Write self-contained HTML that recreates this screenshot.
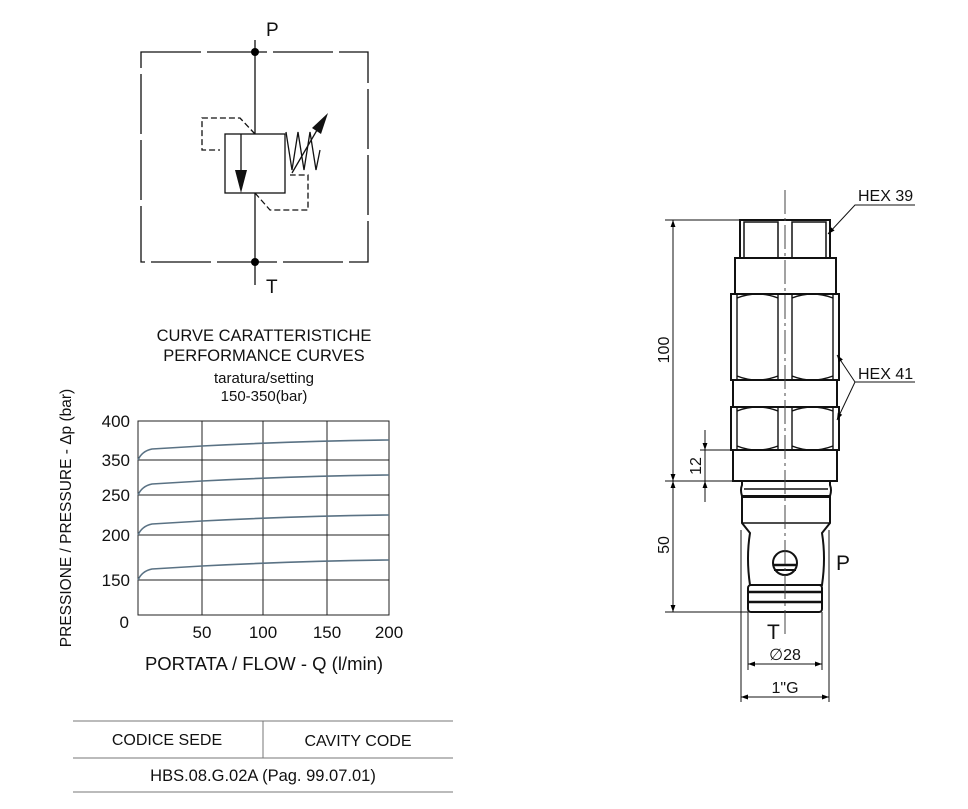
<!DOCTYPE html>
<html><head><meta charset="utf-8"><style>
html,body{margin:0;padding:0;background:#fff;}
svg{display:block;font-family:"Liberation Sans",sans-serif;}
</style></head><body>
<svg width="968" height="809" viewBox="0 0 968 809" xmlns="http://www.w3.org/2000/svg">
<defs>
<marker id="ar" viewBox="0 0 10 10" refX="10" refY="5" markerWidth="11" markerHeight="7" orient="auto-start-reverse" markerUnits="userSpaceOnUse"><path d="M0,1.5 L10,5 L0,8.5 z" fill="#000"/></marker>
</defs>
<!-- hydraulic symbol -->
<g stroke="#111" fill="none" stroke-width="1.3">
<rect x="141" y="52" width="227" height="210" stroke-dasharray="60,6"/>
<line x1="255" y1="40" x2="255" y2="134"/>
<line x1="255" y1="193" x2="255" y2="285"/>
<rect x="225" y="134" width="60" height="59" fill="#fff"/>
<line x1="241" y1="134" x2="241" y2="175"/>
<g stroke-dasharray="6,3">
<polyline points="255,134 240,118 202,118 202,150 220,150"/>
<polyline points="255,193 270,210 308,210 308,175 290,175"/>
</g>
<polyline points="286,132 292,170 298,132 304,170 310,132 316,170 320,150"/>
<line x1="292" y1="173" x2="320" y2="125"/>
</g>
<polygon points="235,170 247,170 241,193" fill="#111"/>
<polygon points="328,113 312,128 321,134" fill="#111"/>
<circle cx="255" cy="52" r="4" fill="#000"/>
<circle cx="255" cy="262" r="4" fill="#000"/>
<text x="266" y="36" font-size="19" fill="#111">P</text>
<text x="266" y="293" font-size="19" fill="#111">T</text>
<!-- chart titles -->
<g font-size="16.5" fill="#111" text-anchor="middle">
<text x="264" y="341">CURVE CARATTERISTICHE</text>
<text x="264" y="361">PERFORMANCE CURVES</text>
<text x="264" y="383" font-size="15">taratura/setting</text>
<text x="264" y="401" font-size="15">150-350(bar)</text>
</g>
<!-- chart -->
<g stroke="#222" stroke-width="1" fill="none">
<rect x="138" y="421" width="251" height="194"/>
<line x1="138" y1="460" x2="389" y2="460"/>
<line x1="138" y1="495" x2="389" y2="495"/>
<line x1="138" y1="535" x2="389" y2="535"/>
<line x1="138" y1="580" x2="389" y2="580"/>
<line x1="202" y1="421" x2="202" y2="615"/>
<line x1="263" y1="421" x2="263" y2="615"/>
<line x1="327" y1="421" x2="327" y2="615"/>
</g>
<g stroke="#5a7284" stroke-width="1.6" fill="none">
<path d="M138,460 Q142,451 152,449 L202,446 Q300,441 389,440"/>
<path d="M138,495 Q142,486 152,484 L202,481 Q300,476 389,475"/>
<path d="M138,535 Q142,526 152,524 L202,521 Q300,516 389,515"/>
<path d="M138,580 Q142,571 152,569 L202,566 Q300,561 389,560"/>
</g>
<g font-size="17" fill="#111" text-anchor="end">
<text x="130" y="427">400</text>
<text x="130" y="466">350</text>
<text x="130" y="501">250</text>
<text x="130" y="541">200</text>
<text x="130" y="586">150</text>
<text x="129" y="628">0</text>
</g>
<g font-size="17" fill="#111" text-anchor="middle">
<text x="202" y="638">50</text>
<text x="263" y="638">100</text>
<text x="327" y="638">150</text>
<text x="389" y="638">200</text>
<text x="264" y="670" font-size="18.5">PORTATA / FLOW - Q (l/min)</text>
</g>
<text x="0" y="0" font-size="15.5" fill="#111" text-anchor="middle" transform="translate(71,518) rotate(-90)">PRESSIONE / PRESSURE - Δp (bar)</text>
<!-- table -->
<g stroke="#777" stroke-width="1">
<line x1="73" y1="721" x2="453" y2="721"/>
<line x1="73" y1="758" x2="453" y2="758"/>
<line x1="73" y1="792" x2="453" y2="792"/>
<line x1="263" y1="721" x2="263" y2="758"/>
</g>
<g font-size="16" fill="#111" text-anchor="middle">
<text x="167" y="745">CODICE SEDE</text>
<text x="358" y="746">CAVITY CODE</text>
<text x="263" y="781" font-size="16.5">HBS.08.G.02A (Pag. 99.07.01)</text>
</g>
<!-- cartridge -->
<g stroke="#111" stroke-width="2" fill="none">
<polyline points="740,258 740,220 830,220 830,258"/>
<rect x="744" y="222" width="34" height="36" stroke-width="1.5"/>
<rect x="792" y="222" width="34" height="36" stroke-width="1.5"/>
<rect x="735" y="258" width="101" height="36"/>
<rect x="731" y="294" width="108" height="86"/>
<g stroke-width="1.4">
<line x1="737" y1="294" x2="737" y2="380"/><line x1="833" y1="294" x2="833" y2="380"/>
<line x1="778" y1="294" x2="778" y2="380"/><line x1="792" y1="294" x2="792" y2="380"/>
<path d="M737,298 Q757,290 778,298 M792,298 Q812,290 833,298 M737,376 Q757,384 778,376 M792,376 Q812,384 833,376"/>
</g>
<rect x="733" y="380" width="104" height="27"/>
<rect x="731" y="407" width="108" height="43"/>
<g stroke-width="1.4">
<line x1="737" y1="407" x2="737" y2="450"/><line x1="833" y1="407" x2="833" y2="450"/>
<line x1="778" y1="407" x2="778" y2="450"/><line x1="792" y1="407" x2="792" y2="450"/>
<path d="M737,411 Q757,403 778,411 M792,411 Q812,403 833,411 M737,446 Q757,454 778,446 M792,446 Q812,454 833,446"/>
</g>
<rect x="733" y="450" width="104" height="31"/>
<path d="M742,481 L742,485 Q740,490 742,496 L830,496 Q832,490 830,485 L830,481"/>
<line x1="744" y1="489" x2="828" y2="489" stroke-width="1.4"/>
<path d="M742,497 L742,523 L750,533 Q746,558 750,585 L822,585 Q826,558 822,533 L830,523 L830,497 Z"/>
<line x1="742" y1="523" x2="830" y2="523" stroke-width="1.4"/>
<rect x="748" y="585" width="74" height="27" rx="3"/>
<line x1="748" y1="592" x2="822" y2="592" stroke-width="2.5"/>
<line x1="748" y1="602" x2="822" y2="602" stroke-width="2.5"/>
<circle cx="785" cy="563" r="12"/>
<line x1="773" y1="565" x2="797" y2="565" stroke-width="2.5"/>
<line x1="774" y1="570" x2="796" y2="570" stroke-width="2"/>
</g>
<line x1="785" y1="190" x2="785" y2="635" stroke="#444" stroke-width="1" stroke-dasharray="24,4,3,4"/>
<!-- dimensions -->
<g stroke="#111" stroke-width="1" fill="none">
<line x1="665" y1="220" x2="740" y2="220"/>
<line x1="665" y1="481" x2="733" y2="481"/>
<line x1="665" y1="612" x2="748" y2="612"/>
<line x1="700" y1="450" x2="733" y2="450"/>
<line x1="673" y1="220" x2="673" y2="481" marker-start="url(#ar)" marker-end="url(#ar)"/>
<line x1="673" y1="481" x2="673" y2="612" marker-start="url(#ar)" marker-end="url(#ar)"/>
<line x1="705" y1="430" x2="705" y2="450" marker-end="url(#ar)"/>
<line x1="705" y1="502" x2="705" y2="481" marker-end="url(#ar)"/>
<line x1="705" y1="450" x2="705" y2="481"/>
<line x1="748" y1="612" x2="748" y2="670"/>
<line x1="822" y1="612" x2="822" y2="670"/>
<line x1="741" y1="530" x2="741" y2="702"/>
<line x1="829" y1="530" x2="829" y2="702"/>
<line x1="748" y1="664" x2="822" y2="664" marker-start="url(#ar)" marker-end="url(#ar)"/>
<line x1="741" y1="697" x2="829" y2="697" marker-start="url(#ar)" marker-end="url(#ar)"/>
<polyline points="915,205 855,205 828,234" marker-end="url(#ar)"/>
<polyline points="915,382 855,382 837,355" marker-end="url(#ar)"/>
<line x1="855" y1="382" x2="837" y2="420" marker-end="url(#ar)"/>
</g>
<g font-size="16" fill="#111">
<text x="858" y="201">HEX 39</text>
<text x="858" y="379">HEX 41</text>
<text x="785" y="660" text-anchor="middle">∅28</text>
<text x="785" y="693" text-anchor="middle">1"G</text>
<text x="0" y="0" text-anchor="middle" transform="translate(669,350) rotate(-90)">100</text>
<text x="0" y="0" text-anchor="middle" transform="translate(669,545) rotate(-90)">50</text>
<text x="0" y="0" text-anchor="middle" transform="translate(701,466) rotate(-90)">12</text>
<text x="836" y="570" font-size="21">P</text>
<text x="767" y="639" font-size="21">T</text>
</g>
</svg>
</body></html>
